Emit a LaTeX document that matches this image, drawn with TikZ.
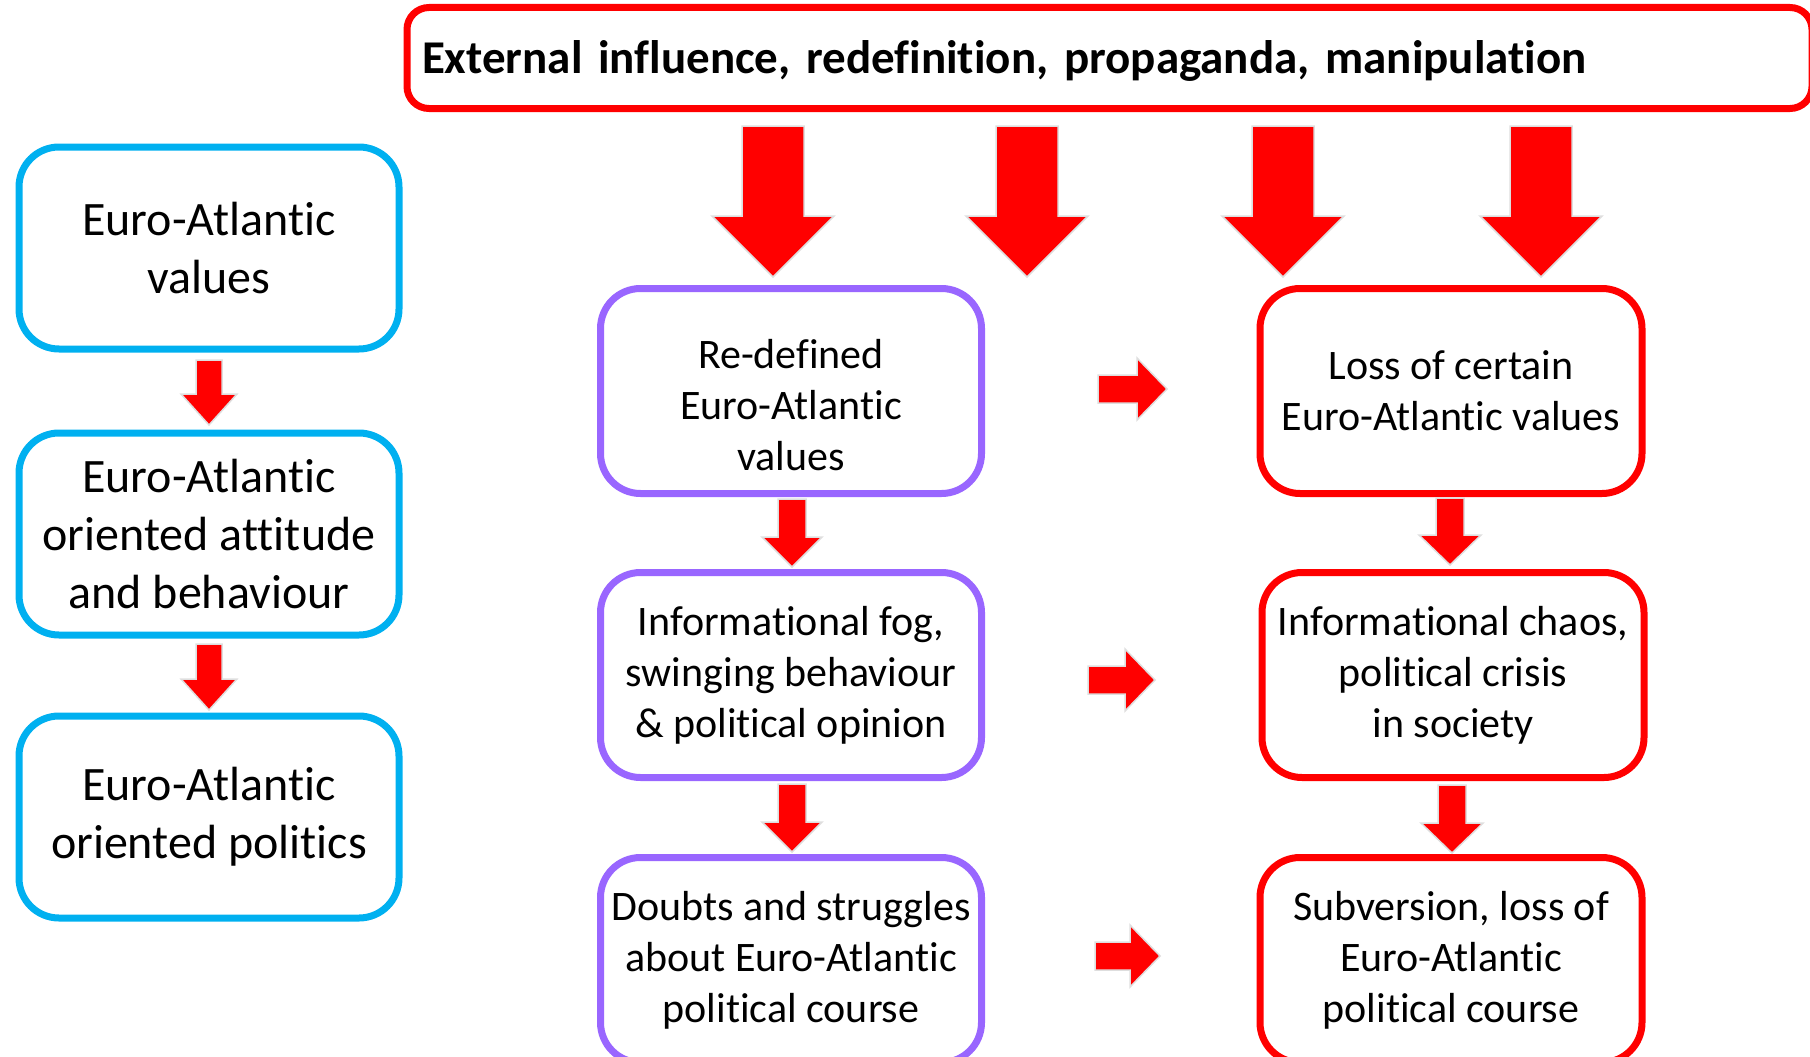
\documentclass[tikz,border=0pt]{standalone}
\usepackage{fontspec}
\setmainfont{Carlito}[Ligatures=NoCommon]
\usetikzlibrary{calc}
\definecolor{cblue}{HTML}{00B0F0}
\definecolor{cpurple}{HTML}{9966FF}
\definecolor{cred}{HTML}{FF0000}
% block arrow pointing down: #1 top coord, #2 tip coord, #3 shaft half, #4 head half, #5 head length
\newcommand\bdown[5]{%
  \filldraw[blockarrow] let \p1=(#1), \p2=(#2) in
    (\x1-#3pt,\y1) -- (\x1+#3pt,\y1) -- (\x1+#3pt,\y2+#5pt) -- (\x1+#4pt,\y2+#5pt)
    -- (\x1,\y2) -- (\x1-#4pt,\y2+#5pt) -- (\x1-#3pt,\y2+#5pt) -- cycle;}
% block arrow pointing right
\newcommand\bright[5]{%
  \filldraw[blockarrow] let \p1=(#1), \p2=(#2) in
    (\x1,\y1-#3pt) -- (\x2-#5pt,\y1-#3pt) -- (\x2-#5pt,\y1-#4pt) -- (\x2,\y1)
    -- (\x2-#5pt,\y1+#4pt) -- (\x2-#5pt,\y1+#3pt) -- (\x1,\y1+#3pt) -- cycle;}
\begin{document}
\begin{tikzpicture}[x=1pt,y=-1pt,
  box/.style={draw, line width=7pt, rounded corners=40pt, fill=white, align=center, inner sep=0pt},
  bluebox/.style={box, draw=cblue, minimum width=380pt, minimum height=202pt, font=\fontsize{48}{58}\selectfont},
  purplebox/.style={box, draw=cpurple, minimum width=381pt, minimum height=205pt, font=\fontsize{42}{51}\selectfont},
  redbox/.style={box, draw=cred, minimum width=382pt, minimum height=205pt, font=\fontsize{42}{51}\selectfont},
  blockarrow/.style={fill=cred, draw=black!13, line width=1.5pt, line join=miter}
]
\useasboundingbox (0,0) rectangle (1810,1057);

% top box
\node[box, draw=cred, rounded corners=22pt, text width=1375pt, align=left, inner xsep=15pt, inner ysep=0pt,
      text height=41pt, text depth=9pt,
      minimum height=101pt, font=\fontsize{47}{56}\bfseries\selectfont] (top) at (1109.5,58)
  {External influence, redefinition, propaganda, manipulation};

% left column
\node[bluebox] (b1) at (209,248) {Euro-Atlantic\\values};
\node[bluebox] (b2) at (209,534) {Euro-Atlantic\\oriented attitude\\and behaviour};
\node[bluebox] (b3) at (209,817) {Euro-Atlantic\\oriented politics};

% middle column
\node[purplebox] (p1) at (791,391) {\rule{0pt}{57pt}Re-defined\\Euro-Atlantic\\values};
\node[purplebox] (p2) at (791,675) {Informational fog,\\swinging behaviour\\\& political opinion};
\node[purplebox] (p3) at (791,960) {Doubts and struggles\\about Euro-Atlantic\\political course};

% right column
\node[redbox] (r1) at (1451,391) {Loss of certain\\Euro-Atlantic values};
\node[redbox] (r2) at (1453,675) {Informational chaos,\\political crisis\\in society};
\node[redbox] (r3) at (1451,960) {Subversion, loss of\\Euro-Atlantic\\political course};

% big arrows from top box
\coordinate (t1s) at (773,126);  \coordinate (t1e) at (773,277);
\coordinate (t2s) at (1027,126); \coordinate (t2e) at (1027,277);
\coordinate (t3s) at (1283,126); \coordinate (t3e) at (1283,277);
\coordinate (t4s) at (1541,126); \coordinate (t4e) at (1541,277);
\bdown{t1s}{t1e}{31}{61}{61}
\bdown{t2s}{t2e}{31}{61}{61}
\bdown{t3s}{t3e}{31}{61}{61}
\bdown{t4s}{t4e}{31}{61}{61}

% small down arrows
\coordinate (ba1s) at (209,360); \coordinate (ba1e) at (209,425);
\coordinate (ba2s) at (209,644); \coordinate (ba2e) at (209,710);
\coordinate (pa1s) at (792,499); \coordinate (pa1e) at (792,567);
\coordinate (pa2s) at (792,784); \coordinate (pa2e) at (792,852);
\coordinate (ra1s) at (1450,498); \coordinate (ra1e) at (1450,565);
\coordinate (ra2s) at (1452,785); \coordinate (ra2e) at (1452,853);
\bdown{ba1s}{ba1e}{13}{28}{31}
\bdown{ba2s}{ba2e}{13}{28}{31}
\bdown{pa1s}{pa1e}{14}{30}{30}
\bdown{pa2s}{pa2e}{14}{30}{30}
\bdown{ra1s}{ra1e}{14}{31}{30}
\bdown{ra2s}{ra2e}{14}{31}{30}

% right arrows
\coordinate (h1s) at (1098,389); \coordinate (h1e) at (1167,389);
\coordinate (h2s) at (1088,680); \coordinate (h2e) at (1155,680);
\coordinate (h3s) at (1095,956); \coordinate (h3e) at (1160,956);
\bright{h1s}{h1e}{14}{31}{30}
\bright{h2s}{h2e}{14}{31}{30}
\bright{h3s}{h3e}{14}{31}{30}
\end{tikzpicture}
\end{document}
